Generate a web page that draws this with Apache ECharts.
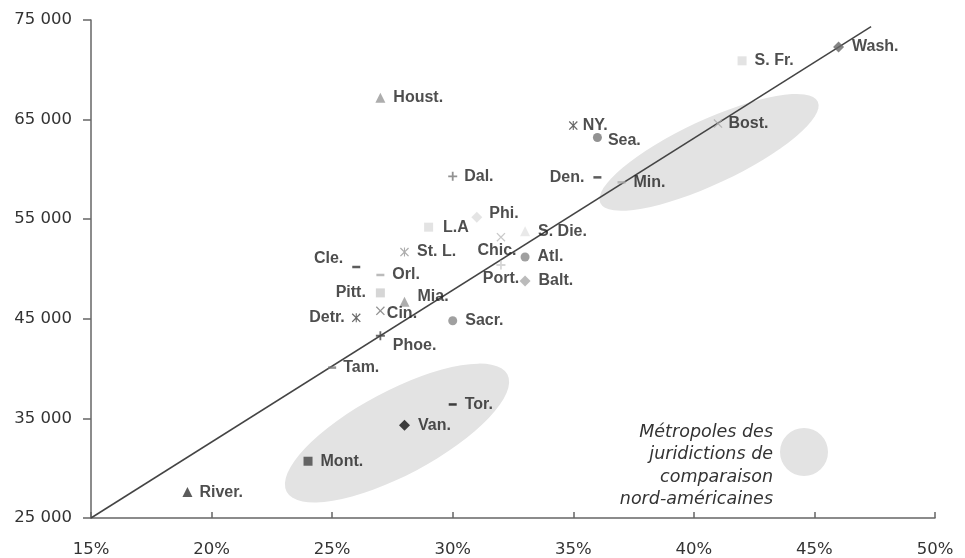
<!DOCTYPE html>
<html><head><meta charset="utf-8">
<script src="https://cdn.jsdelivr.net/npm/echarts@6/dist/echarts.min.js"></script>
<style>html,body{margin:0;padding:0;background:#fff}#c{width:965px;height:558px}</style>
</head><body><div id="c"></div>
<script>
// ---- data ----
const cities = ['Wash.','S. Fr.','Bost.','NY.','Sea.','Den.','Min.','Houst.','Dal.','Phi.','L.A','S. Die.','Chic.','St. L.','Atl.','Cle.','Orl.','Port.','Balt.','Pitt.','Mia.','Cin.','Detr.','Sacr.','Phoe.','Tam.','Tor.','Van.','Mont.','River.'];
const shareX = [46,42,41,35,36,36,37,27,30,31,29,33,32,28,33,26,27,32,33,27,28,27,26,30,27,25,30,28,24,19];
const incomeY = [72300,70900,64600,64400,63200,59200,58700,67200,59300,55200,54200,53800,53200,51700,51200,50200,49400,50400,48800,47600,46700,45800,45100,44800,43300,40100,36400,34300,30700,27600];
const trendX = [15, 47.35];
const trendY = [25000, 74340];
const xTicks = [15,20,25,30,35,40,45,50];
const yTicks = [25000,35000,45000,55000,65000,75000];
const legendLines = ['Métropoles des','juridictions de','comparaison','nord-américaines'];
// comparison metro clusters (centers in data units)
const clusterCenters = [[40.63, 61710],[27.69, 33530]];

// ---- styles ----
const SYM = {
  plus: 'path://M4,0H6V4H10V6H6V10H4V6H0V4H4Z',
  cross: 'path://M1,0L5,4L9,0L10,1L6,5L10,9L9,10L5,6L1,10L0,9L4,5L0,1Z',
  star: 'path://M1,0L5,4L9,0L10,1L6,5L10,9L9,10L5,6L1,10L0,9L4,5L0,1Z M4.4,0H5.6V10H4.4Z'
};
const st = {
 'Wash.':['diamond','#666'], 'S. Fr.':['rect','#dcdcdc'], 'Bost.':['cross','#aaa',{distance:6}], 'NY.':['star','#444',{distance:5}],
 'Sea.':['circle','#777',{distance:6,offset:[0,3]}], 'Den.':['dash','#333',{position:'left',distance:9}], 'Min.':['dash','#aaa'],
 'Houst.':['triangle','#999'], 'Dal.':['plus','#777',{distance:7}], 'Phi.':['diamond','#ddd',{distance:7,offset:[0,-4]}],
 'L.A':['rect','#dcdcdc',{distance:10}], 'S. Die.':['triangle','#e3e3e3'], 'Chic.':['cross','#bbb',{position:'bottom',distance:1,offset:[-4,0]}],
 'St. L.':['star','#999'], 'Atl.':['circle','#888'], 'Cle.':['dash','#333',{position:'left',distance:9,offset:[0,-8]}],
 'Orl.':['dash','#aaa'], 'Port.':['plus','#ccc',{position:'bottom',distance:1}], 'Balt.':['diamond','#aaa'],
 'Pitt.':['rect','#ccc',{position:'left',distance:10}], 'Mia.':['triangle','#999',{offset:[0,-5]}], 'Cin.':['cross','#777',{distance:2,offset:[0,3]}],
 'Detr.':['star','#444',{position:'left',distance:7}], 'Sacr.':['circle','#888'], 'Phoe.':['plus','#444',{offset:[0,10]}],
 'Tam.':['dash','#777',{distance:7}], 'Tor.':['dash','#111'], 'Van.':['diamond','#111'], 'Mont.':['rect','#444'], 'River.':['triangle','#333',{distance:7}]
};

function itemFor(i){
  const s = st[cities[i]];
  const kind = s[0];
  let symbol = kind, size = 9;
  if (SYM[kind]) { symbol = SYM[kind]; size = 9; }
  if (kind === 'dash') { symbol = 'rect'; size = [8,2.5]; }
  if (kind === 'diamond') size = 11;
  if (kind === 'triangle') size = 10;
  if (kind === 'rect') size = 9;
  const lab = Object.assign({show:true, position:'right', distance:8, formatter:cities[i]}, s[2]||{});
  return {value:[shareX[i], incomeY[i]], name:cities[i], symbol, symbolSize:size,
    itemStyle:{color:s[1]}, label:lab};
}
const pts = cities.map((c,i)=>itemFor(i));

const chart = echarts.init(document.getElementById('c'));
const axisFont = {fontFamily:'DejaVu Sans', fontSize:16.5, color:'#333'};
chart.setOption({
  animation:false,
  grid:{left:91, right:30, top:20, bottom:40},
  xAxis:{type:'value', min:15, max:50, interval:5,
    axisLine:{lineStyle:{color:'#666',width:1.5}},
    axisTick:{show:true, inside:true, length:6, lineStyle:{color:'#666',width:1.5}},
    splitLine:{show:false},
    axisLabel:Object.assign({formatter:v=>v+'%', margin:23}, axisFont)},
  yAxis:{type:'value', min:25000, max:75000, interval:10000,
    axisLine:{show:true, lineStyle:{color:'#666',width:1.5}},
    axisTick:{show:true, length:8, lineStyle:{color:'#666',width:1.5}},
    splitLine:{show:false},
    axisLabel:Object.assign({formatter:v=>String(v).replace(/\B(?=(\d{3})+(?!\d))/g,' '), margin:19}, axisFont)},
  series:[
    {type:'line', data:trendX.map((x,i)=>[x,trendY[i]]), symbol:'none', z:3,
     lineStyle:{color:'#444', width:1.5}},
    {type:'scatter', data:pts, z:4,
     label:{fontFamily:'Liberation Sans', fontWeight:'bold', fontSize:16, color:'#222'}}
  ]
});

const c1 = chart.convertToPixel({gridIndex:0}, clusterCenters[0]);
const c2 = chart.convertToPixel({gridIndex:0}, clusterCenters[1]);
const deg = Math.PI/180;
const ell = '#e3e3e3';
chart.setOption({graphic:[
  {type:'circle', x:c1[0], y:c1[1], scaleX:120, scaleY:32, rotation:25*deg, shape:{cx:0,cy:0,r:1}, style:{fill:ell}, z:1},
  {type:'circle', x:c2[0], y:c2[1], scaleX:125, scaleY:42, rotation:28*deg, shape:{cx:0,cy:0,r:1}, style:{fill:ell}, z:1},
  {type:'circle', shape:{cx:804, cy:452, r:24}, style:{fill:ell}, z:1},
  {type:'text', x:773, y:421, z:5, style:{text:legendLines.join('\n'), align:'right', lineHeight:22.5,
     font:'italic 17.5px "DejaVu Sans"', fill:'#333'}}
]});
</script></body></html>
